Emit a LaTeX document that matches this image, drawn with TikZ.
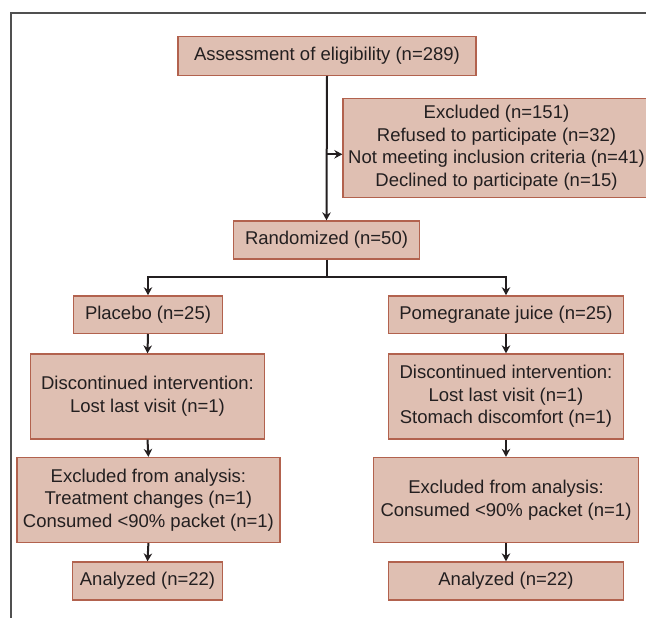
\documentclass[tikz,border=0pt]{standalone}
\usepackage{fontspec}
\setmainfont{Liberation Sans}
\usetikzlibrary{arrows.meta}
\definecolor{boxfill}{RGB}{223,191,178}
\definecolor{boxline}{RGB}{178,98,78}
\definecolor{framecol}{RGB}{80,80,80}
\definecolor{txt}{RGB}{35,31,32}
\begin{document}
\begin{tikzpicture}[x=1pt,y=-1pt,
  box/.style={draw=boxline, fill=boxfill, line width=1.3pt, inner sep=0pt,
    align=center, text=txt, font=\fontsize{18.5}{22.7}\selectfont},
  arr/.style={line width=2pt, txt, -{Stealth[length=8pt,width=8.5pt]}},
  conn/.style={line width=2pt, txt}]
\useasboundingbox (0,0) rectangle (646,618);
\clip (0,0) rectangle (646,618);
\draw[framecol, line width=2pt] (10.5,620) -- (10.5,12.7) -- (648,12.7);
\node[box, minimum width=298, minimum height=39] (a) at (327,55.7) {Assessment of eligibility (n=289)};
\node[box, minimum width=307, minimum height=99] (e) at (496.5,147.8) {Excluded (n=151)\\Refused to participate (n=32)\\Not meeting inclusion criteria (n=41)\\Declined to participate (n=15)};
\node[box, minimum width=186, minimum height=38] (r) at (326.5,240) {Randomized (n=50)};
\node[box, minimum width=149.5, minimum height=37.5] (p) at (148,314.6) {Placebo (n=25)};
\node[box, minimum width=235, minimum height=37.5] (g) at (506,314.6) {Pomegranate juice (n=25)};
\node[box, minimum width=234, minimum height=85] (dl) at (147.5,396.5) {Discontinued intervention:\\Lost last visit (n=1)};
\node[box, minimum width=235, minimum height=85] (dr) at (506,396.5) {Discontinued intervention:\\Lost last visit (n=1)\\Stomach discomfort (n=1)};
\node[box, minimum width=263, minimum height=85] (xl) at (148.4,500) {Excluded from analysis:\\Treatment changes (n=1)\\Consumed <90\% packet (n=1)};
\node[box, minimum width=265, minimum height=85] (xr) at (506,500) {Excluded from analysis:\\Consumed <90\% packet (n=1)};
\node[box, minimum width=150, minimum height=38] (al) at (147.5,581) {Analyzed (n=22)};
\node[box, minimum width=235, minimum height=38] (ar) at (506,581) {Analyzed (n=22)};
\draw[arr] (a.south) -- (r.north);
\coordinate (x0) at (326.5,154.3);
\draw[arr] (x0) -- (e.west |- x0);
\draw[conn] (r.south) -- ++(0,17) coordinate (br);
\draw[arr] (br) -| (p.north);
\draw[arr] (br) -| (g.north);
\draw[arr] (p.south) -- (dl.north);
\draw[arr] (dl.south) -- (xl.north);
\draw[arr] (xl.south) -- (al.north);
\draw[arr] (g.south) -- (dr.north);
\draw[arr] (dr.south) -- (xr.north);
\draw[arr] (xr.south) -- (ar.north);
\end{tikzpicture}
\end{document}
